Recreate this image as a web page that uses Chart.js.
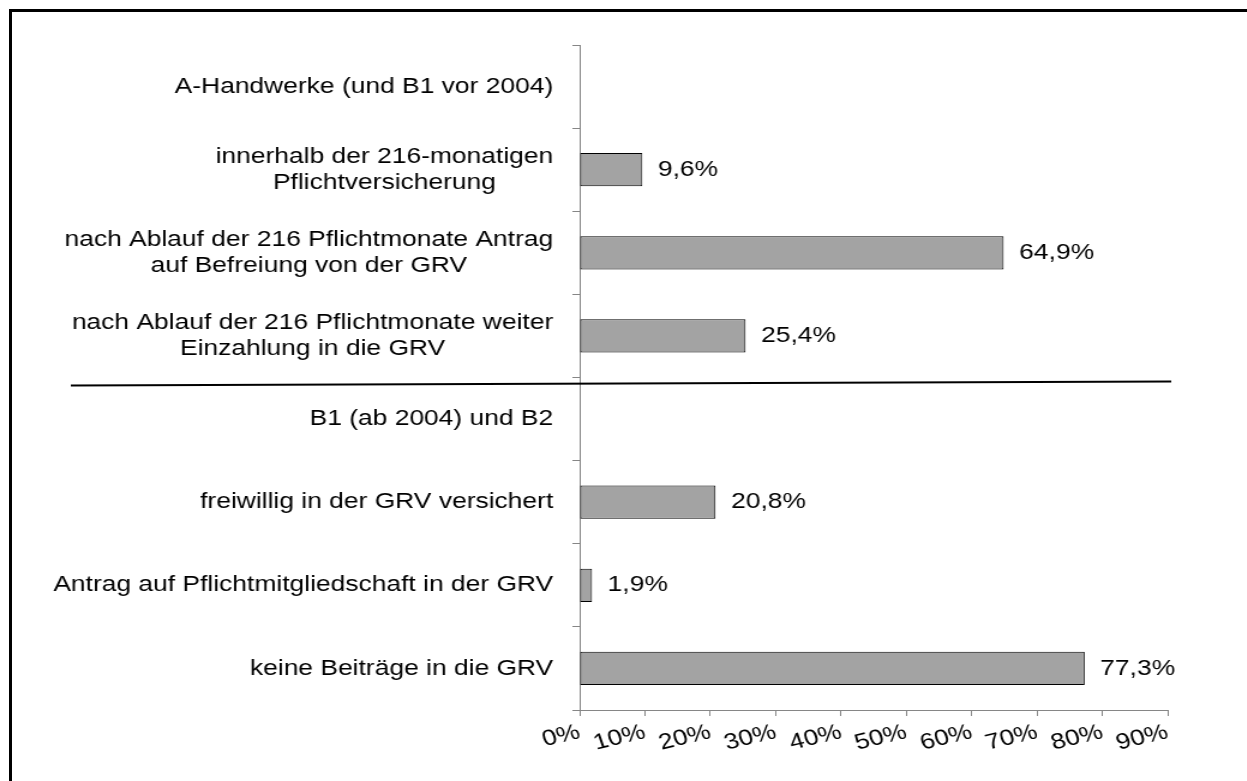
<!DOCTYPE html>
<html>
<head>
<meta charset="utf-8">
<script src="https://cdn.jsdelivr.net/npm/chart.js@4"></script>
<style>
  html, body { margin: 0; padding: 0; background: #fff; overflow: hidden; }
  #frame { position: absolute; left: 9px; top: 9px; width: 1300px; height: 900px;
           border-left: 3px solid #000; border-top: 3px solid #000; }
  #chart { position: absolute; left: 0; top: 0; transform: scaleX(1.2); transform-origin: 0 0; }
</style>
</head>
<body>
<div id="frame"></div>
<canvas id="chart" width="1039" height="781"></canvas>
<script>
// categories, top to bottom
const categories = [
  ['A-Handwerke (und B1 vor 2004)'],
  ['innerhalb der 216-monatigen', 'Pflichtversicherung'],
  ['nach Ablauf der 216 Pflichtmonate Antrag', 'auf Befreiung von der GRV'],
  ['nach Ablauf der 216 Pflichtmonate weiter', 'Einzahlung in die GRV'],
  ['B1 (ab 2004) und B2'],
  ['freiwillig in der GRV versichert'],
  ['Antrag auf Pflichtmitgliedschaft in der GRV'],
  ['keine Beiträge in die GRV']
];
const shares = [null, 9.6, 64.9, 25.4, null, 20.8, 1.9, 77.3];
const xMin = 0, xMax = 90, xStep = 10;

const FONT = '22px "Liberation Sans", Arial, sans-serif';
const AXIS_GREY = '#868686';

// labels of the category axis: block right aligned, lines centred inside the block
const categoryLabels = {
  id: 'categoryLabels',
  afterDraw(chart) {
    const ctx = chart.ctx, y = chart.scales.y;
    const right = chart.chartArea.left - 22;
    const lineH = 26;
    ctx.save();
    ctx.font = FONT;
    ctx.fillStyle = '#000';
    ctx.textAlign = 'center';
    ctx.textBaseline = 'middle';
    categories.forEach((lines, i) => {
      const w = Math.max(...lines.map(l => ctx.measureText(l).width));
      const cx = right - w / 2;
      const cy = y.getPixelForValue(i);
      lines.forEach((l, k) => ctx.fillText(l, cx, cy + (k - (lines.length - 1) / 2) * lineH));
    });
    ctx.restore();
  }
};

// value labels right of each bar
const valueLabels = {
  id: 'valueLabels',
  afterDatasetsDraw(chart) {
    const ctx = chart.ctx;
    const meta = chart.getDatasetMeta(0);
    ctx.save();
    ctx.font = FONT;
    ctx.fillStyle = '#000';
    ctx.textAlign = 'left';
    ctx.textBaseline = 'middle';
    meta.data.forEach((bar, i) => {
      if (shares[i] == null) return;
      ctx.fillText(shares[i].toFixed(1).replace('.', ',') + '%', bar.x + 13, bar.y);
    });
    ctx.restore();
  }
};

// line separating the two groups
const divider = {
  id: 'divider',
  afterDraw(chart) {
    const ctx = chart.ctx, y = chart.scales.y;
    const yb = y.getPixelForValue(3.5);
    ctx.save();
    ctx.strokeStyle = '#000';
    ctx.lineWidth = 2;
    ctx.beginPath();
    ctx.moveTo(59, yb + 8);
    ctx.lineTo(chart.chartArea.right + 3, yb + 4);
    ctx.stroke();
    ctx.restore();
  }
};

new Chart(document.getElementById('chart'), {
  type: 'bar',
  data: {
    labels: categories,
    datasets: [{
      data: shares,
      backgroundColor: '#a3a3a3',
      borderColor: '#000',
      borderWidth: 1,
      borderSkipped: false,
      categoryPercentage: 1,
      barPercentage: 0.4
    }]
  },
  options: {
    indexAxis: 'y',
    responsive: false,
    animation: false,
    layout: { padding: { top: 45, left: 13, right: 66, bottom: 11 } },
    plugins: { legend: { display: false }, tooltip: { enabled: false } },
    scales: {
      x: {
        min: xMin, max: xMax,
        grid: { drawOnChartArea: false, color: AXIS_GREY, tickLength: 6 },
        border: { color: AXIS_GREY },
        ticks: {
          stepSize: xStep, autoSkip: false,
          minRotation: 16, maxRotation: 16,
          color: '#000', font: { family: '"Liberation Sans", Arial, sans-serif', size: 22 },
          callback: v => v + '%'
        },
        afterFit(scale) { scale.height = 60; }
      },
      y: {
        grid: { drawOnChartArea: false, color: AXIS_GREY, tickLength: 6, offset: true },
        border: { color: AXIS_GREY },
        ticks: { display: false },
        afterFit(scale) { scale.width = 470; }
      }
    }
  },
  plugins: [categoryLabels, valueLabels, divider]
});
</script>
</body>
</html>
